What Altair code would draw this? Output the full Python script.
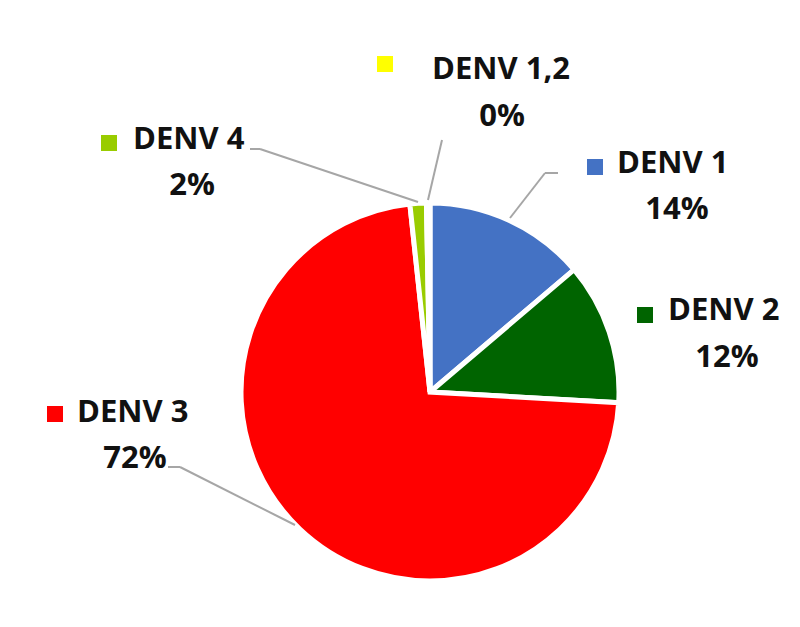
import altair as alt
import pandas as pd

# ---- data ----
names = ["DENV 1", "DENV 2", "DENV 3", "DENV 4", "DENV 1,2"]
values = [13.8, 12.1, 72.4, 1.4, 0.3]
pct_labels = ["14%", "12%", "72%", "2%", "0%"]
colors = ["#4472C4", "#006400", "#FF0000", "#99CC00", "#FFFF00"]

# ---- layout (chart pixel coordinates; page offset 8px) ----
W, H = 784, 611
CX, CY, R = 422, 384, 189
marker_x = [579, 629, 39, 93, 369]
marker_y = [151, 299, 398, 127, 48]
name_x = [609, 660, 69, 125, 424]
name_y = [165, 312, 414, 141, 71]
pct_x = [669, 719, 127, 184, 494]
pct_y = [211, 359, 460, 187, 118]

# leader line segments (x, y, x2, y2)
seg_x = [550, 537, 160, 172, 242, 252, 434]
seg_y = [165, 165, 459, 459, 141, 141, 132]
seg_x2 = [537, 502, 172, 287, 252, 410, 420]
seg_y2 = [165, 210, 459, 517, 141, 194, 192]

pie_df = pd.DataFrame({"name": names, "value": values, "idx": list(range(len(names)))})
lab_df = pd.DataFrame({
    "name": names, "pct": pct_labels,
    "mx": marker_x, "my": marker_y,
    "nx": name_x, "ny": name_y,
    "px": pct_x, "py": pct_y,
})
seg_df = pd.DataFrame({"x": seg_x, "y": seg_y, "x2": seg_x2, "y2": seg_y2})

color = alt.Color("name:N", scale=alt.Scale(domain=names, range=colors), legend=None)
xs = alt.Scale(domain=[0, W], range=[0, W])
ys = alt.Scale(domain=[0, H], range=[0, H])

FONT = "Open Sans"
FS = 31

pie = alt.Chart(pie_df).mark_arc(radius=R, stroke="white", strokeWidth=5).encode(
    theta=alt.Theta("value:Q", stack=True),
    order=alt.Order("idx:Q"),
    color=color,
    x=alt.value(CX),
    y=alt.value(CY),
)

leaders = alt.Chart(seg_df).mark_rule(color="#A6A6A6", strokeWidth=2).encode(
    x=alt.X("x:Q", scale=xs, axis=None),
    y=alt.Y("y:Q", scale=ys, axis=None),
    x2="x2:Q",
    y2="y2:Q",
)

markers = alt.Chart(lab_df).mark_rect().encode(
    x=alt.X("mx:Q", scale=xs, axis=None),
    x2=alt.X2("mx2:Q"),
    y=alt.Y("my:Q", scale=ys, axis=None),
    y2=alt.Y2("my2:Q"),
    color=color,
).transform_calculate(mx2="datum.mx + 16", my2="datum.my + 16")

name_text = alt.Chart(lab_df).mark_text(
    align="left", baseline="alphabetic", font=FONT, fontSize=FS, fontWeight="bold", color="#111111"
).encode(
    x=alt.X("nx:Q", scale=xs, axis=None),
    y=alt.Y("ny:Q", scale=ys, axis=None),
    text="name:N",
)

pct_text = alt.Chart(lab_df).mark_text(
    align="center", baseline="alphabetic", font=FONT, fontSize=FS, fontWeight="bold", color="#111111"
).encode(
    x=alt.X("px:Q", scale=xs, axis=None),
    y=alt.Y("py:Q", scale=ys, axis=None),
    text="pct:N",
)

chart = alt.layer(pie, leaders, markers, name_text, pct_text).properties(
    width=W, height=H, autosize=alt.AutoSizeParams(type="none"), padding=0
).configure_view(stroke=None)

chart.save("out.html", embed_options={"renderer": "svg", "actions": False})
